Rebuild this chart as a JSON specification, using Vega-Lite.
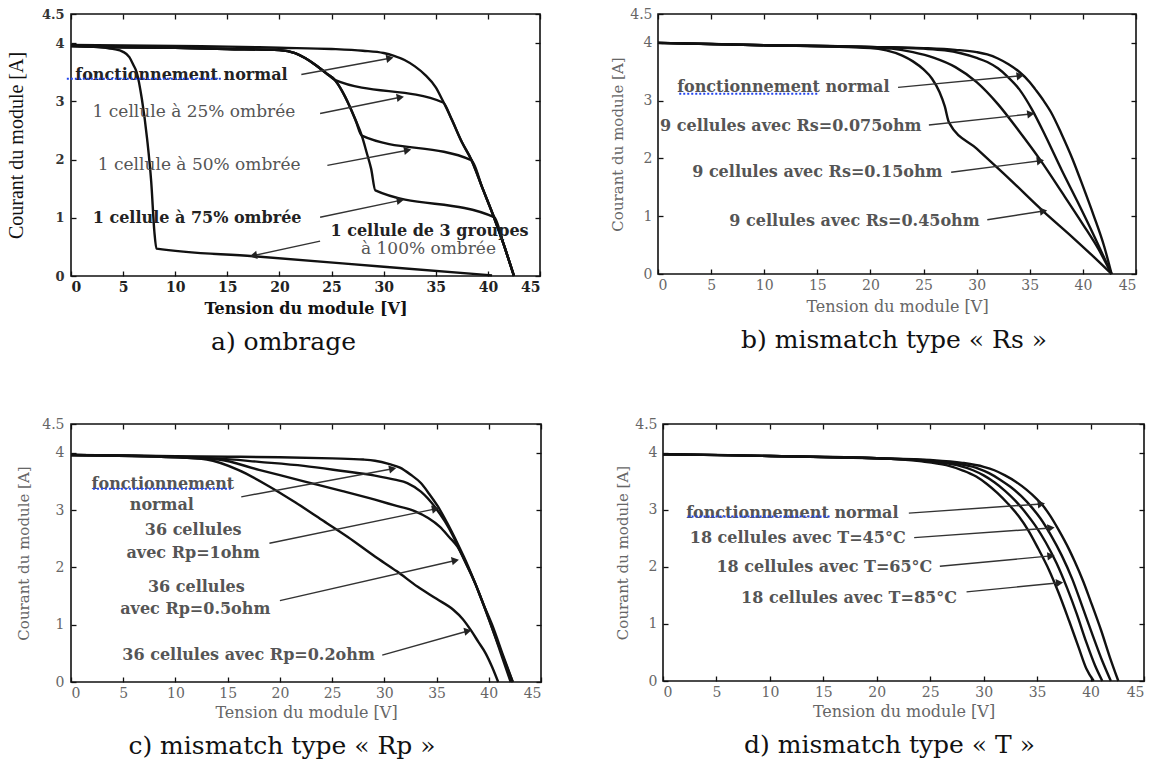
{
"$schema": "https://vega.github.io/schema/vega-lite/v6.json",
"background": "white",
"padding": {"left": 5, "top": 6, "right": 5, "bottom": 5},
"datasets": {
"curvesA": [
{"s":"normal","x":0,"y":3.97},{"s":"normal","x":5,"y":3.96},{"s":"normal","x":10,"y":3.95},{"s":"normal","x":15,"y":3.94},{"s":"normal","x":20,"y":3.92},{"s":"normal","x":25,"y":3.9},{"s":"normal","x":28,"y":3.87},{"s":"normal","x":30,"y":3.83},{"s":"normal","x":31,"y":3.78},{"s":"normal","x":32,"y":3.71},{"s":"normal","x":33,"y":3.6},{"s":"normal","x":34,"y":3.45},{"s":"normal","x":35,"y":3.24},{"s":"normal","x":35.7,"y":3.0},{"s":"normal","x":36.5,"y":2.7},{"s":"normal","x":37.5,"y":2.3},{"s":"normal","x":38.4,"y":2.0},{"s":"normal","x":39.5,"y":1.5},{"s":"normal","x":40.6,"y":1.0},{"s":"normal","x":41.5,"y":0.55},{"s":"normal","x":42.5,"y":0},
{"s":"s25","x":0,"y":3.95},{"s":"s25","x":5,"y":3.93},{"s":"s25","x":10,"y":3.92},{"s":"s25","x":15,"y":3.9},{"s":"s25","x":20,"y":3.88},{"s":"s25","x":21.5,"y":3.83},{"s":"s25","x":22.5,"y":3.74},{"s":"s25","x":23.5,"y":3.62},{"s":"s25","x":24.5,"y":3.48},{"s":"s25","x":25.3,"y":3.37},{"s":"s25","x":35.7,"y":2.98},{"s":"s25","x":36.5,"y":2.7},{"s":"s25","x":37.5,"y":2.3},{"s":"s25","x":38.4,"y":2.0},{"s":"s25","x":39.5,"y":1.5},{"s":"s25","x":40.6,"y":1.0},{"s":"s25","x":41.5,"y":0.55},{"s":"s25","x":42.5,"y":0},
{"s":"s50","x":0,"y":3.95},{"s":"s50","x":5,"y":3.93},{"s":"s50","x":10,"y":3.92},{"s":"s50","x":15,"y":3.9},{"s":"s50","x":20,"y":3.88},{"s":"s50","x":21.5,"y":3.83},{"s":"s50","x":22.5,"y":3.74},{"s":"s50","x":23.5,"y":3.62},{"s":"s50","x":24.5,"y":3.48},{"s":"s50","x":25.3,"y":3.37},{"s":"s50","x":26,"y":3.18},{"s":"s50","x":26.7,"y":2.93},{"s":"s50","x":27.3,"y":2.68},{"s":"s50","x":27.9,"y":2.41},{"s":"s50","x":38.4,"y":1.99},{"s":"s50","x":39.5,"y":1.5},{"s":"s50","x":40.6,"y":1.0},{"s":"s50","x":41.5,"y":0.55},{"s":"s50","x":42.5,"y":0},
{"s":"s75","x":0,"y":3.95},{"s":"s75","x":5,"y":3.93},{"s":"s75","x":10,"y":3.92},{"s":"s75","x":15,"y":3.9},{"s":"s75","x":20,"y":3.88},{"s":"s75","x":21.5,"y":3.83},{"s":"s75","x":22.5,"y":3.74},{"s":"s75","x":23.5,"y":3.62},{"s":"s75","x":24.5,"y":3.48},{"s":"s75","x":25.3,"y":3.37},{"s":"s75","x":26,"y":3.18},{"s":"s75","x":26.7,"y":2.93},{"s":"s75","x":27.3,"y":2.68},{"s":"s75","x":27.9,"y":2.41},{"s":"s75","x":28.4,"y":2.1},{"s":"s75","x":28.8,"y":1.84},{"s":"s75","x":29.2,"y":1.47},{"s":"s75","x":40.6,"y":1.01},{"s":"s75","x":41.5,"y":0.55},{"s":"s75","x":42.5,"y":0},
{"s":"s100","x":0,"y":3.96},{"s":"s100","x":2,"y":3.94},{"s":"s100","x":4,"y":3.9},{"s":"s100","x":5,"y":3.85},{"s":"s100","x":5.6,"y":3.76},{"s":"s100","x":6,"y":3.62},{"s":"s100","x":6.3,"y":3.5},{"s":"s100","x":6.8,"y":3.04},{"s":"s100","x":7.3,"y":2.36},{"s":"s100","x":7.7,"y":1.61},{"s":"s100","x":8.0,"y":0.76},{"s":"s100","x":8.2,"y":0.47},{"s":"s100","x":17.5,"y":0.34},{"s":"s100","x":30,"y":0.16},{"s":"s100","x":40.4,"y":0.01}
],
"boldA": [
{"t":"fonctionnement normal","x":10.6,"y":3.46},
{"t":"1 cellule à 75% ombrée","x":12.1,"y":1.0},
{"t":"1 cellule de 3 groupes","x":34.4,"y":0.78}
],
"normA": [
{"t":"1 cellule à 25% ombrée","x":11.8,"y":2.82},
{"t":"1 cellule à 50% ombrée","x":12.3,"y":1.9},
{"t":"à 100% ombrée","x":34.3,"y":0.47}
],
"arrowsA": [
{"x":22.1,"y":3.46,"x2":30.6,"y2":3.74,"dir":"right"},
{"x":23.9,"y":2.79,"x2":31.6,"y2":3.07,"dir":"right"},
{"x":24.6,"y":1.9,"x2":32.3,"y2":2.16,"dir":"right"},
{"x":23.9,"y":1.01,"x2":31.6,"y2":1.3,"dir":"right"},
{"x":23.9,"y":0.6,"x2":17.5,"y2":0.35,"dir":"left"}
],
"ulA": [{"x":-0.4,"x2":14.4,"y":3.39}],
"curvesB": [
{"s":"normal","x":0,"y":4.0},{"s":"normal","x":5,"y":3.98},{"s":"normal","x":10,"y":3.96},{"s":"normal","x":15,"y":3.95},{"s":"normal","x":20,"y":3.93},{"s":"normal","x":25,"y":3.91},{"s":"normal","x":28,"y":3.88},{"s":"normal","x":30,"y":3.84},{"s":"normal","x":31,"y":3.8},{"s":"normal","x":32,"y":3.73},{"s":"normal","x":33,"y":3.63},{"s":"normal","x":34,"y":3.5},{"s":"normal","x":35,"y":3.32},{"s":"normal","x":35.5,"y":3.2},{"s":"normal","x":36.3,"y":3.0},{"s":"normal","x":37,"y":2.8},{"s":"normal","x":38,"y":2.42},{"s":"normal","x":39,"y":2.0},{"s":"normal","x":40,"y":1.52},{"s":"normal","x":41,"y":1.02},{"s":"normal","x":42,"y":0.48},{"s":"normal","x":42.7,"y":0},
{"s":"rs075","x":0,"y":4.0},{"s":"rs075","x":10,"y":3.96},{"s":"rs075","x":20,"y":3.93},{"s":"rs075","x":25,"y":3.9},{"s":"rs075","x":27,"y":3.87},{"s":"rs075","x":28.5,"y":3.82},{"s":"rs075","x":30,"y":3.74},{"s":"rs075","x":31,"y":3.67},{"s":"rs075","x":32,"y":3.56},{"s":"rs075","x":33,"y":3.4},{"s":"rs075","x":34,"y":3.2},{"s":"rs075","x":35.2,"y":2.85},{"s":"rs075","x":36.5,"y":2.38},{"s":"rs075","x":38,"y":1.8},{"s":"rs075","x":39.5,"y":1.25},{"s":"rs075","x":41,"y":0.68},{"s":"rs075","x":42.7,"y":0},
{"s":"rs15","x":0,"y":4.0},{"s":"rs15","x":10,"y":3.96},{"s":"rs15","x":20,"y":3.92},{"s":"rs15","x":22,"y":3.9},{"s":"rs15","x":24,"y":3.84},{"s":"rs15","x":26,"y":3.74},{"s":"rs15","x":28,"y":3.58},{"s":"rs15","x":30,"y":3.32},{"s":"rs15","x":32,"y":2.94},{"s":"rs15","x":34,"y":2.47},{"s":"rs15","x":36,"y":1.97},{"s":"rs15","x":38,"y":1.42},{"s":"rs15","x":40,"y":0.86},{"s":"rs15","x":41.5,"y":0.42},{"s":"rs15","x":42.7,"y":0},
{"s":"rs45","x":0,"y":4.0},{"s":"rs45","x":10,"y":3.96},{"s":"rs45","x":20,"y":3.91},{"s":"rs45","x":21.5,"y":3.87},{"s":"rs45","x":23,"y":3.78},{"s":"rs45","x":24,"y":3.68},{"s":"rs45","x":25,"y":3.54},{"s":"rs45","x":25.8,"y":3.38},{"s":"rs45","x":26.5,"y":3.15},{"s":"rs45","x":27,"y":2.9},{"s":"rs45","x":27.4,"y":2.62},{"s":"rs45","x":30,"y":2.17},{"s":"rs45","x":33,"y":1.66},{"s":"rs45","x":36.3,"y":1.08},{"s":"rs45","x":39,"y":0.64},{"s":"rs45","x":41,"y":0.3},{"s":"rs45","x":42.7,"y":0}
],
"textB": [
{"t":"fonctionnement normal","x":11.8,"y":3.23},
{"t":"9 cellules avec Rs=0.075ohm","x":12.5,"y":2.57},
{"t":"9 cellules avec Rs=0.15ohm","x":15,"y":1.76},
{"t":"9 cellules avec Rs=0.45ohm","x":18.5,"y":0.91}
],
"arrowsB": [
{"x":22.6,"y":3.23,"x2":34.1,"y2":3.43,"dir":"right"},
{"x":25.5,"y":2.58,"x2":35.1,"y2":2.77,"dir":"right"},
{"x":27.6,"y":1.76,"x2":36.0,"y2":1.96,"dir":"right"},
{"x":31.0,"y":0.94,"x2":36.3,"y2":1.09,"dir":"right"}
],
"ulB": [{"x":2.0,"x2":15.1,"y":3.12}],
"curvesC": [
{"s":"normal","x":0,"y":3.96},{"s":"normal","x":5,"y":3.95},{"s":"normal","x":10,"y":3.94},{"s":"normal","x":15,"y":3.93},{"s":"normal","x":20,"y":3.92},{"s":"normal","x":25,"y":3.9},{"s":"normal","x":28,"y":3.88},{"s":"normal","x":29.1,"y":3.86},{"s":"normal","x":30.5,"y":3.8},{"s":"normal","x":31.5,"y":3.74},{"s":"normal","x":32.5,"y":3.62},{"s":"normal","x":33.5,"y":3.47},{"s":"normal","x":34.3,"y":3.28},{"s":"normal","x":35.1,"y":3.07},{"s":"normal","x":36,"y":2.78},{"s":"normal","x":37,"y":2.42},{"s":"normal","x":38,"y":2.03},{"s":"normal","x":38.7,"y":1.72},{"s":"normal","x":39.5,"y":1.35},{"s":"normal","x":40.4,"y":0.96},{"s":"normal","x":41.3,"y":0.5},{"s":"normal","x":42.3,"y":0},
{"s":"rp1","x":0,"y":3.96},{"s":"rp1","x":10,"y":3.93},{"s":"rp1","x":14,"y":3.9},{"s":"rp1","x":18,"y":3.84},{"s":"rp1","x":22.3,"y":3.77},{"s":"rp1","x":26,"y":3.68},{"s":"rp1","x":29.1,"y":3.6},{"s":"rp1","x":31,"y":3.53},{"s":"rp1","x":32.2,"y":3.47},{"s":"rp1","x":33.5,"y":3.32},{"s":"rp1","x":34.9,"y":3.04},{"s":"rp1","x":35.8,"y":2.8},{"s":"rp1","x":36.6,"y":2.54},{"s":"rp1","x":37.6,"y":2.15},{"s":"rp1","x":38.7,"y":1.72},{"s":"rp1","x":39.6,"y":1.3},{"s":"rp1","x":40.5,"y":0.85},{"s":"rp1","x":41.4,"y":0.42},{"s":"rp1","x":42.3,"y":0},
{"s":"rp05","x":0,"y":3.96},{"s":"rp05","x":10,"y":3.92},{"s":"rp05","x":14.1,"y":3.88},{"s":"rp05","x":18,"y":3.7},{"s":"rp05","x":22.3,"y":3.5},{"s":"rp05","x":26,"y":3.33},{"s":"rp05","x":29.1,"y":3.18},{"s":"rp05","x":31,"y":3.08},{"s":"rp05","x":32.9,"y":2.98},{"s":"rp05","x":34.2,"y":2.86},{"s":"rp05","x":35.3,"y":2.71},{"s":"rp05","x":36.2,"y":2.53},{"s":"rp05","x":37,"y":2.36},{"s":"rp05","x":37.8,"y":2.08},{"s":"rp05","x":38.7,"y":1.72},{"s":"rp05","x":39.6,"y":1.3},{"s":"rp05","x":40.5,"y":0.85},{"s":"rp05","x":41.3,"y":0.42},{"s":"rp05","x":42.1,"y":0},
{"s":"rp02","x":0,"y":3.96},{"s":"rp02","x":10,"y":3.92},{"s":"rp02","x":13,"y":3.88},{"s":"rp02","x":16,"y":3.7},{"s":"rp02","x":18.9,"y":3.42},{"s":"rp02","x":21.5,"y":3.13},{"s":"rp02","x":24,"y":2.83},{"s":"rp02","x":26.5,"y":2.53},{"s":"rp02","x":29.1,"y":2.19},{"s":"rp02","x":31.2,"y":1.93},{"s":"rp02","x":33.2,"y":1.66},{"s":"rp02","x":35,"y":1.45},{"s":"rp02","x":36.6,"y":1.26},{"s":"rp02","x":37.5,"y":1.1},{"s":"rp02","x":38.3,"y":0.9},{"s":"rp02","x":39,"y":0.7},{"s":"rp02","x":39.7,"y":0.5},{"s":"rp02","x":40.3,"y":0.27},{"s":"rp02","x":40.9,"y":0}
],
"textC": [
{"t":"fonctionnement","x":8.8,"y":3.45},
{"t":"normal","x":8.7,"y":3.08},
{"t":"36 cellules","x":11.7,"y":2.65},
{"t":"avec Rp=1ohm","x":11.7,"y":2.25},
{"t":"36 cellules","x":12.0,"y":1.66},
{"t":"avec Rp=0.5ohm","x":11.9,"y":1.27},
{"t":"36 cellules avec Rp=0.2ohm","x":17.0,"y":0.47}
],
"arrowsC": [
{"x":16.3,"y":3.23,"x2":30.8,"y2":3.72,"dir":"right"},
{"x":19.0,"y":2.42,"x2":34.9,"y2":3.02,"dir":"right"},
{"x":20.0,"y":1.42,"x2":36.8,"y2":2.12,"dir":"right"},
{"x":29.8,"y":0.47,"x2":38.0,"y2":0.89,"dir":"right"}
],
"ulC": [{"x":2.1,"x2":15.3,"y":3.37}],
"curvesD": [
{"s":"normal","x":0,"y":3.97},{"s":"normal","x":5,"y":3.96},{"s":"normal","x":10,"y":3.94},{"s":"normal","x":15,"y":3.92},{"s":"normal","x":20,"y":3.9},{"s":"normal","x":25,"y":3.87},{"s":"normal","x":28,"y":3.82},{"s":"normal","x":30,"y":3.75},{"s":"normal","x":31,"y":3.69},{"s":"normal","x":32,"y":3.6},{"s":"normal","x":33,"y":3.49},{"s":"normal","x":34,"y":3.35},{"s":"normal","x":35,"y":3.18},{"s":"normal","x":35.5,"y":3.08},{"s":"normal","x":36.2,"y":2.9},{"s":"normal","x":37,"y":2.65},{"s":"normal","x":38,"y":2.3},{"s":"normal","x":38.5,"y":2.1},{"s":"normal","x":39.3,"y":1.75},{"s":"normal","x":40,"y":1.4},{"s":"normal","x":41,"y":0.88},{"s":"normal","x":41.8,"y":0.42},{"s":"normal","x":42.6,"y":0},
{"s":"t45","x":0,"y":3.97},{"s":"t45","x":10,"y":3.94},{"s":"t45","x":20,"y":3.9},{"s":"t45","x":25,"y":3.86},{"s":"t45","x":28,"y":3.79},{"s":"t45","x":29.5,"y":3.72},{"s":"t45","x":30.5,"y":3.64},{"s":"t45","x":31.5,"y":3.53},{"s":"t45","x":32.5,"y":3.4},{"s":"t45","x":33.5,"y":3.24},{"s":"t45","x":34.5,"y":3.04},{"s":"t45","x":35.3,"y":2.85},{"s":"t45","x":36.3,"y":2.55},{"s":"t45","x":37.3,"y":2.2},{"s":"t45","x":38.3,"y":1.78},{"s":"t45","x":39.2,"y":1.32},{"s":"t45","x":40.2,"y":0.8},{"s":"t45","x":41.1,"y":0.35},{"s":"t45","x":41.9,"y":0},
{"s":"t65","x":0,"y":3.97},{"s":"t65","x":10,"y":3.94},{"s":"t65","x":20,"y":3.9},{"s":"t65","x":25,"y":3.85},{"s":"t65","x":27.5,"y":3.78},{"s":"t65","x":29,"y":3.69},{"s":"t65","x":30,"y":3.6},{"s":"t65","x":31,"y":3.48},{"s":"t65","x":32,"y":3.33},{"s":"t65","x":33,"y":3.15},{"s":"t65","x":34,"y":2.93},{"s":"t65","x":34.8,"y":2.73},{"s":"t65","x":35.8,"y":2.43},{"s":"t65","x":36.8,"y":2.07},{"s":"t65","x":37.8,"y":1.63},{"s":"t65","x":38.7,"y":1.18},{"s":"t65","x":39.6,"y":0.68},{"s":"t65","x":40.4,"y":0.28},{"s":"t65","x":41.1,"y":0},
{"s":"t85","x":0,"y":3.97},{"s":"t85","x":10,"y":3.94},{"s":"t85","x":20,"y":3.9},{"s":"t85","x":24,"y":3.85},{"s":"t85","x":26.5,"y":3.78},{"s":"t85","x":28,"y":3.69},{"s":"t85","x":29.3,"y":3.58},{"s":"t85","x":30.3,"y":3.45},{"s":"t85","x":31.3,"y":3.29},{"s":"t85","x":32.3,"y":3.1},{"s":"t85","x":33.3,"y":2.88},{"s":"t85","x":34.2,"y":2.63},{"s":"t85","x":35.1,"y":2.32},{"s":"t85","x":36.1,"y":1.95},{"s":"t85","x":37,"y":1.55},{"s":"t85","x":38,"y":1.05},{"s":"t85","x":38.9,"y":0.58},{"s":"t85","x":39.6,"y":0.22},{"s":"t85","x":40.3,"y":0}
],
"textD": [
{"t":"fonctionnement normal","x":12.1,"y":2.94},
{"t":"18 cellules avec T=45°C","x":12.6,"y":2.51},
{"t":"18 cellules avec T=65°C","x":15.1,"y":2.0},
{"t":"18 cellules avec T=85°C","x":17.4,"y":1.45}
],
"arrowsD": [
{"x":23.0,"y":2.94,"x2":35.4,"y2":3.1,"dir":"right"},
{"x":23.5,"y":2.51,"x2":36.3,"y2":2.68,"dir":"right"},
{"x":25.9,"y":2.01,"x2":36.3,"y2":2.19,"dir":"right"},
{"x":28.4,"y":1.56,"x2":37.1,"y2":1.72,"dir":"right"}
],
"ulD": [{"x":2.3,"x2":15.6,"y":2.88}]
},
"vconcat": [
{"hconcat": [
{
"width": 469, "height": 262,
"title": {"text": "a) ombrage", "orient": "bottom", "anchor": "middle", "dx": -22, "offset": 14},
"layer": [
{"data": {"name": "curvesA"}, "mark": {"type": "line", "color": "#111", "strokeWidth": 2.4, "interpolate": "monotone"},
 "encoding": {
  "x": {"field": "x", "type": "quantitative", "scale": {"domain": [0, 45], "nice": false}, "axis": {"values": [0,5,10,15,20,25,30,35,40,45], "title": "Tension du module [V]", "titleFontWeight": "bold", "titleColor": "#111", "titleFontSize": 16, "labelColor": "#222", "labelFontWeight": "bold", "titlePadding": 6}},
  "y": {"field": "y", "type": "quantitative", "scale": {"domain": [0, 4.5], "nice": false}, "axis": {"values": [0,1,2,3,4,4.5], "format": ".1~f", "title": "Courant du module [A]", "titleFont": "Liberation Serif", "titleFontSize": 20, "titleColor": "#111", "labelColor": "#333", "labelFontSize": 13, "labelFontWeight": "bold", "labelPadding": 12, "titlePadding": 15}},
  "detail": {"field": "s", "type": "nominal"}}},
{"data": {"name": "arrowsA"}, "mark": {"type": "rule", "color": "#333", "strokeWidth": 1.4},
 "encoding": {"x": {"field": "x", "type": "quantitative", "scale": {"domain": [0, 45], "nice": false}, "axis": null}, "y": {"field": "y", "type": "quantitative", "scale": {"domain": [0, 4.5], "nice": false}, "axis": null}, "x2": {"field": "x2"}, "y2": {"field": "y2"}}},
{"data": {"name": "arrowsA"}, "mark": {"type": "point", "filled": true, "color": "#222", "size": 70, "angle": -10, "opacity": 1},
 "encoding": {"x": {"field": "x2", "type": "quantitative", "scale": {"domain": [0, 45], "nice": false}, "axis": null}, "y": {"field": "y2", "type": "quantitative", "scale": {"domain": [0, 4.5], "nice": false}, "axis": null},
  "shape": {"field": "dir", "type": "nominal", "scale": {"domain": ["right", "left"], "range": ["triangle-right", "triangle-left"]}, "legend": null}}},
{"data": {"name": "boldA"}, "mark": {"type": "text", "font": "DejaVu Serif", "fontSize": 16, "fontWeight": "bold", "color": "#222", "align": "center", "baseline": "middle"},
 "encoding": {"x": {"field": "x", "type": "quantitative", "scale": {"domain": [0, 45], "nice": false}, "axis": null}, "y": {"field": "y", "type": "quantitative", "scale": {"domain": [0, 4.5], "nice": false}, "axis": null}, "text": {"field": "t"}}},
{"data": {"name": "normA"}, "mark": {"type": "text", "font": "DejaVu Serif", "fontSize": 17, "color": "#555", "align": "center", "baseline": "middle"},
 "encoding": {"x": {"field": "x", "type": "quantitative", "scale": {"domain": [0, 45], "nice": false}, "axis": null}, "y": {"field": "y", "type": "quantitative", "scale": {"domain": [0, 4.5], "nice": false}, "axis": null}, "text": {"field": "t"}}},
{"data": {"name": "ulA"}, "mark": {"type": "rule", "color": "#2244ee", "strokeWidth": 2, "strokeDash": [2, 2]},
 "encoding": {"x": {"field": "x", "type": "quantitative", "scale": {"domain": [0, 45], "nice": false}, "axis": {"orient": "top", "values": [0,5,10,15,20,25,30,35,40,45], "labels": false, "title": null}}, "x2": {"field": "x2"},
  "y": {"field": "y", "type": "quantitative", "scale": {"domain": [0, 4.5], "nice": false}, "axis": {"orient": "right", "values": [0,1,2,3,4,4.5], "labels": false, "title": null}}}}
],
"resolve": {"axis": {"x": "independent", "y": "independent"}}
},
{
"width": 478, "height": 260,
"title": {"text": "b) mismatch type « Rs »", "orient": "bottom", "anchor": "middle", "dx": -3, "offset": 14},
"layer": [
{"data": {"name": "curvesB"}, "mark": {"type": "line", "color": "#111", "strokeWidth": 2.4, "interpolate": "monotone"},
 "encoding": {
  "x": {"field": "x", "type": "quantitative", "scale": {"domain": [0, 45], "nice": false}, "axis": {"values": [0,5,10,15,20,25,30,35,40,45], "title": "Tension du module [V]", "titlePadding": 6}},
  "y": {"field": "y", "type": "quantitative", "scale": {"domain": [0, 4.5], "nice": false}, "axis": {"values": [0,1,2,3,4,4.5], "format": ".1~f", "title": "Courant du module [A]", "titleFontSize": 15, "labelPadding": 11}},
  "detail": {"field": "s", "type": "nominal"}}},
{"data": {"name": "arrowsB"}, "mark": {"type": "rule", "color": "#333", "strokeWidth": 1.4},
 "encoding": {"x": {"field": "x", "type": "quantitative", "scale": {"domain": [0, 45], "nice": false}, "axis": null}, "y": {"field": "y", "type": "quantitative", "scale": {"domain": [0, 4.5], "nice": false}, "axis": null}, "x2": {"field": "x2"}, "y2": {"field": "y2"}}},
{"data": {"name": "arrowsB"}, "mark": {"type": "point", "filled": true, "color": "#222", "size": 70, "angle": -8, "opacity": 1, "shape": "triangle-right"},
 "encoding": {"x": {"field": "x2", "type": "quantitative", "scale": {"domain": [0, 45], "nice": false}, "axis": null}, "y": {"field": "y2", "type": "quantitative", "scale": {"domain": [0, 4.5], "nice": false}, "axis": null}}},
{"data": {"name": "textB"}, "mark": {"type": "text", "font": "DejaVu Serif", "fontSize": 16, "fontWeight": "bold", "color": "#555", "align": "center", "baseline": "middle"},
 "encoding": {"x": {"field": "x", "type": "quantitative", "scale": {"domain": [0, 45], "nice": false}, "axis": null}, "y": {"field": "y", "type": "quantitative", "scale": {"domain": [0, 4.5], "nice": false}, "axis": null}, "text": {"field": "t"}}},
{"data": {"name": "ulB"}, "mark": {"type": "rule", "color": "#2244ee", "strokeWidth": 2, "strokeDash": [2, 2]},
 "encoding": {"x": {"field": "x", "type": "quantitative", "scale": {"domain": [0, 45], "nice": false}, "axis": {"orient": "top", "values": [0,5,10,15,20,25,30,35,40,45], "labels": false, "title": null}}, "x2": {"field": "x2"},
  "y": {"field": "y", "type": "quantitative", "scale": {"domain": [0, 4.5], "nice": false}, "axis": {"orient": "right", "values": [0,1,2,3,4,4.5], "labels": false, "title": null}}}}
],
"resolve": {"axis": {"x": "independent", "y": "independent"}}
}
], "spacing": 67},
{"hconcat": [
{
"width": 470, "height": 258,
"title": {"text": "c) mismatch type « Rp »", "orient": "bottom", "anchor": "middle", "dx": -24, "offset": 14},
"layer": [
{"data": {"name": "curvesC"}, "mark": {"type": "line", "color": "#111", "strokeWidth": 2.4, "interpolate": "monotone"},
 "encoding": {
  "x": {"field": "x", "type": "quantitative", "scale": {"domain": [0, 45], "nice": false}, "axis": {"values": [0,5,10,15,20,25,30,35,40,45], "title": "Tension du module [V]"}},
  "y": {"field": "y", "type": "quantitative", "scale": {"domain": [0, 4.5], "nice": false}, "axis": {"values": [0,1,2,3,4,4.5], "format": ".1~f", "title": "Courant du module [A]", "titleFontSize": 15, "labelPadding": 12, "titlePadding": 10}},
  "detail": {"field": "s", "type": "nominal"}}},
{"data": {"name": "arrowsC"}, "mark": {"type": "rule", "color": "#333", "strokeWidth": 1.4},
 "encoding": {"x": {"field": "x", "type": "quantitative", "scale": {"domain": [0, 45], "nice": false}, "axis": null}, "y": {"field": "y", "type": "quantitative", "scale": {"domain": [0, 4.5], "nice": false}, "axis": null}, "x2": {"field": "x2"}, "y2": {"field": "y2"}}},
{"data": {"name": "arrowsC"}, "mark": {"type": "point", "filled": true, "color": "#222", "size": 70, "angle": -12, "opacity": 1, "shape": "triangle-right"},
 "encoding": {"x": {"field": "x2", "type": "quantitative", "scale": {"domain": [0, 45], "nice": false}, "axis": null}, "y": {"field": "y2", "type": "quantitative", "scale": {"domain": [0, 4.5], "nice": false}, "axis": null}}},
{"data": {"name": "textC"}, "mark": {"type": "text", "font": "DejaVu Serif", "fontSize": 16, "fontWeight": "bold", "color": "#555", "align": "center", "baseline": "middle"},
 "encoding": {"x": {"field": "x", "type": "quantitative", "scale": {"domain": [0, 45], "nice": false}, "axis": null}, "y": {"field": "y", "type": "quantitative", "scale": {"domain": [0, 4.5], "nice": false}, "axis": null}, "text": {"field": "t"}}},
{"data": {"name": "ulC"}, "mark": {"type": "rule", "color": "#2244ee", "strokeWidth": 2, "strokeDash": [2, 2]},
 "encoding": {"x": {"field": "x", "type": "quantitative", "scale": {"domain": [0, 45], "nice": false}, "axis": {"orient": "top", "values": [0,5,10,15,20,25,30,35,40,45], "labels": false, "title": null}}, "x2": {"field": "x2"},
  "y": {"field": "y", "type": "quantitative", "scale": {"domain": [0, 4.5], "nice": false}, "axis": {"orient": "right", "values": [0,1,2,3,4,4.5], "labels": false, "title": null}}}}
],
"resolve": {"axis": {"x": "independent", "y": "independent"}}
},
{
"width": 481, "height": 257,
"title": {"text": "d) mismatch type « T »", "orient": "bottom", "anchor": "middle", "dx": -14, "offset": 14},
"layer": [
{"data": {"name": "curvesD"}, "mark": {"type": "line", "color": "#111", "strokeWidth": 2.4, "interpolate": "monotone"},
 "encoding": {
  "x": {"field": "x", "type": "quantitative", "scale": {"domain": [0, 45], "nice": false}, "axis": {"values": [0,5,10,15,20,25,30,35,40,45], "title": "Tension du module [V]"}},
  "y": {"field": "y", "type": "quantitative", "scale": {"domain": [0, 4.5], "nice": false}, "axis": {"values": [0,1,2,3,4,4.5], "format": ".1~f", "title": "Courant du module [A]", "titleFontSize": 15, "labelPadding": 11}},
  "detail": {"field": "s", "type": "nominal"}}},
{"data": {"name": "arrowsD"}, "mark": {"type": "rule", "color": "#333", "strokeWidth": 1.4},
 "encoding": {"x": {"field": "x", "type": "quantitative", "scale": {"domain": [0, 45], "nice": false}, "axis": null}, "y": {"field": "y", "type": "quantitative", "scale": {"domain": [0, 4.5], "nice": false}, "axis": null}, "x2": {"field": "x2"}, "y2": {"field": "y2"}}},
{"data": {"name": "arrowsD"}, "mark": {"type": "point", "filled": true, "color": "#222", "size": 70, "angle": -6, "opacity": 1, "shape": "triangle-right"},
 "encoding": {"x": {"field": "x2", "type": "quantitative", "scale": {"domain": [0, 45], "nice": false}, "axis": null}, "y": {"field": "y2", "type": "quantitative", "scale": {"domain": [0, 4.5], "nice": false}, "axis": null}}},
{"data": {"name": "textD"}, "mark": {"type": "text", "font": "DejaVu Serif", "fontSize": 16, "fontWeight": "bold", "color": "#555", "align": "center", "baseline": "middle"},
 "encoding": {"x": {"field": "x", "type": "quantitative", "scale": {"domain": [0, 45], "nice": false}, "axis": null}, "y": {"field": "y", "type": "quantitative", "scale": {"domain": [0, 4.5], "nice": false}, "axis": null}, "text": {"field": "t"}}},
{"data": {"name": "ulD"}, "mark": {"type": "rule", "color": "#2244ee", "strokeWidth": 2, "strokeDash": [2, 2]},
 "encoding": {"x": {"field": "x", "type": "quantitative", "scale": {"domain": [0, 45], "nice": false}, "axis": {"orient": "top", "values": [0,5,10,15,20,25,30,35,40,45], "labels": false, "title": null}}, "x2": {"field": "x2"},
  "y": {"field": "y", "type": "quantitative", "scale": {"domain": [0, 4.5], "nice": false}, "axis": {"orient": "right", "values": [0,1,2,3,4,4.5], "labels": false, "title": null}}}}
],
"resolve": {"axis": {"x": "independent", "y": "independent"}}
}
], "spacing": 71}
],
"spacing": 60,
"config": {
 "view": {"stroke": "#111", "strokeWidth": 1.6},
 "axis": {"domain": false, "grid": false, "ticks": true, "tickSize": -5, "tickColor": "#111", "tickWidth": 1.3, "labelFont": "DejaVu Serif", "labelFontSize": 14, "labelColor": "#666", "labelPadding": 9, "titleFont": "DejaVu Serif", "titleFontSize": 16, "titleFontWeight": "normal", "titleColor": "#666", "titlePadding": 4},
 "title": {"font": "DejaVu Serif", "fontSize": 25, "fontWeight": "normal", "color": "#111"}
}
}
